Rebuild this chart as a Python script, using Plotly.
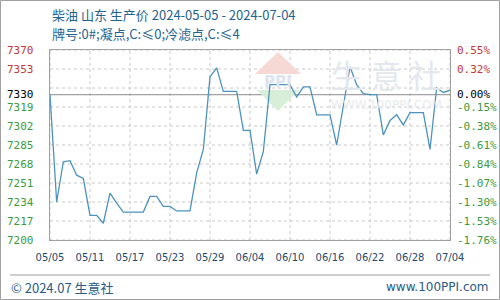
import pandas as pd
import plotly.graph_objects as go

# ---- data ----
start_date = "2024-05-05"
end_date = "2024-07-04"
prices = [7330, 7234, 7270, 7271, 7258, 7255, 7222, 7222, 7215, 7242,
          7233, 7225, 7225, 7225, 7225, 7239, 7239, 7230, 7230, 7226,
          7226, 7226, 7260, 7281, 7346, 7354, 7333, 7333, 7333, 7298,
          7298, 7259, 7279, 7339, 7339, 7339, 7339, 7328, 7337, 7337,
          7312, 7312, 7312, 7285, 7322, 7355, 7339, 7331, 7330, 7330,
          7294, 7307, 7312, 7303, 7314, 7314, 7314, 7281, 7336, 7332,
          7334]
x_tick_labels = ["05/05", "05/11", "05/17", "05/23", "05/29", "06/04",
                 "06/10", "06/16", "06/22", "06/28", "07/04"]
left_labels = ["7370", "7353", "7330", "7319", "7302", "7285", "7268",
               "7251", "7234", "7217", "7200"]
left_values = [7370, 7353, 7330, 7319, 7302, 7285, 7268, 7251, 7234, 7217, 7200]
right_labels = ["0.55%", "0.32%", "0.00%", "-0.15%", "-0.38%", "-0.61%",
                "-0.84%", "-1.07%", "-1.30%", "-1.53%", "-1.76%"]
grid_values = [7200, 7217, 7234, 7251, 7268, 7285, 7302, 7319, 7336, 7353, 7370]
base_value = 7330
title_text = "柴油 山东 生产价 2024-05-05 - 2024-07-04"
subtitle_text = "牌号:0#;凝点,C:≤0;冷滤点,C:≤4"
footer_left = "© 2024.07 生意社"
footer_right = "www.100PPI.com"

dates = pd.date_range(start_date, end_date, freq="D")
tick_dates = pd.date_range(start_date, end_date, freq="6D")

# ---- geometry helpers (pixel -> paper) ----
W, H = 500, 300
ML, MR, MT, MB = 50, 50, 50, 60
PW, PH = W - ML - MR, H - MT - MB


def px(p):
    return (p - ML) / PW


def py(p):
    return (H - MB - p) / PH


fig = go.Figure()
fig.add_trace(go.Scatter(x=dates, y=prices, mode="lines",
                         line=dict(color="#4b93bd", width=1.3),
                         hoverinfo="skip", showlegend=False))

shapes = []
# horizontal dashed grid
for g in grid_values:
    shapes.append(dict(type="line", xref="paper", yref="y", x0=0, x1=1, y0=g, y1=g,
                       line=dict(color="#c8c8c8", width=1, dash="dot"), layer="below"))
# vertical dashed grid
for d in tick_dates:
    shapes.append(dict(type="line", xref="x", yref="paper", x0=d, x1=d, y0=0, y1=1,
                       line=dict(color="#c8c8c8", width=1, dash="dot"), layer="below"))
# base reference line
shapes.append(dict(type="line", xref="paper", yref="y", x0=0, x1=1, y0=base_value, y1=base_value,
                   line=dict(color="#8c8c8c", width=1), layer="below"))
# watermark logo
shapes.append(dict(type="path", xref="paper", yref="paper", layer="below",
                   path=f"M {px(255)},{py(74)} L {px(278)},{py(52)} L {px(301)},{py(74)} Z",
                   fillcolor="#f6d9d4", line=dict(width=0)))
shapes.append(dict(type="path", xref="paper", yref="paper", layer="below",
                   path=f"M {px(257)},{py(90)} L {px(299)},{py(90)} L {px(278)},{py(111)} Z",
                   fillcolor="#d9eed9", line=dict(width=0)))
# outer border and footer separator
shapes.append(dict(type="rect", xref="paper", yref="paper", x0=px(0.5), x1=px(499.5),
                   y0=py(299.5), y1=py(0.5), line=dict(color="#a0a0a0", width=1)))
shapes.append(dict(type="line", xref="paper", yref="paper", x0=px(10), x1=px(490),
                   y0=py(275), y1=py(275), line=dict(color="#a0a0a0", width=1)))

annotations = []
mono = "DejaVu Sans Mono"
for i, (v, lab, rlab) in enumerate(zip(left_values, left_labels, right_labels)):
    if v > base_value:
        col = "#c0393b"
    elif v == base_value:
        col = "#000000"
    else:
        col = "#3d9a3d"
    annotations.append(dict(x=px(5), y=v, xref="paper", yref="y", text=lab, showarrow=False,
                            xanchor="left", yanchor="middle", font=dict(family=mono, size=11, color=col)))
    annotations.append(dict(x=px(455), y=v, xref="paper", yref="y", text=rlab, showarrow=False,
                            xanchor="left", yanchor="middle", font=dict(family=mono, size=11, color=col)))

cjk = "Noto Sans CJK SC"
annotations += [
    dict(x=px(50), y=py(14), xref="paper", yref="paper", text=title_text, showarrow=False,
         xanchor="left", yanchor="middle", font=dict(family=cjk, size=13, color="#1f6390")),
    dict(x=px(50), y=py(34), xref="paper", yref="paper", text=subtitle_text, showarrow=False,
         xanchor="left", yanchor="middle", font=dict(family=cjk, size=13, color="#1f6390")),
    dict(x=px(9), y=py(287), xref="paper", yref="paper", text=footer_left, showarrow=False,
         xanchor="left", yanchor="middle", font=dict(family=cjk, size=13, color="#2b5a84")),
    dict(x=px(491), y=py(287), xref="paper", yref="paper", text=footer_right, showarrow=False,
         xanchor="right", yanchor="middle", font=dict(family="DejaVu Sans", size=12, color="#2b5a84")),
    # watermark texts
    dict(x=px(386), y=py(74), xref="paper", yref="paper", text="生 意 社", showarrow=False,
         xanchor="center", yanchor="middle", font=dict(family=cjk, size=32, color="#e4e7ee")),
    dict(x=px(386), y=py(105), xref="paper", yref="paper", text="WWW.100PPI.COM", showarrow=False,
         xanchor="center", yanchor="middle", font=dict(family="DejaVu Sans", size=12, color="#e8eaef")),
    dict(x=px(278), y=py(82), xref="paper", yref="paper", text="<b>PPI</b>", showarrow=False,
         xanchor="center", yanchor="middle", font=dict(family="DejaVu Sans", size=15, color="#dde4f0")),
]

fig.update_layout(
    width=W, height=H,
    margin=dict(l=ML, r=MR, t=MT, b=MB),
    paper_bgcolor="white", plot_bgcolor="white",
    shapes=shapes, annotations=annotations,
    xaxis=dict(range=[dates[0], dates[-1]], tickvals=list(tick_dates), ticktext=x_tick_labels,
               showgrid=False, zeroline=False, showline=True, mirror=True,
               linecolor="#a0a0a0", linewidth=1, ticks="", ticklabelstandoff=8,
               tickfont=dict(family="DejaVu Sans", size=10, color="#1e4a6e")),
    yaxis=dict(range=[7200, 7370], showgrid=False, zeroline=False, showline=True, mirror=True,
               linecolor="#a0a0a0", linewidth=1, showticklabels=False, ticks=""),
)

fig.write_html("out.html")
